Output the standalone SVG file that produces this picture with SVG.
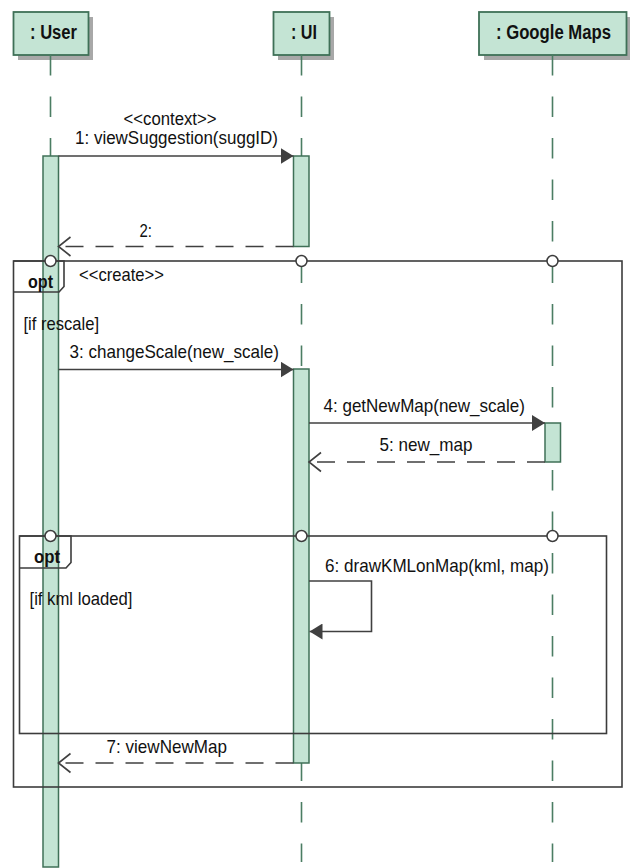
<svg xmlns="http://www.w3.org/2000/svg" width="630" height="868" viewBox="0 0 630 868">
<style>
.head{fill:#c4e4d4;stroke:#3f7057;stroke-width:1.8}
.shadow{fill:#a8a8a8}
.life{stroke:#4b7d63;stroke-width:1.6;stroke-dasharray:20.5 21;fill:none}
.bar{fill:#c4e4d4;stroke:#3f7057;stroke-width:1.5}
.frame{fill:none;stroke:#3c3c3c;stroke-width:1.6}
.gate{fill:#fff;stroke:#3c3c3c;stroke-width:1.5}
.msg{fill:none;stroke:#404040;stroke-width:1.6}
.ret{fill:none;stroke:#404040;stroke-width:1.6;stroke-dasharray:18 12}
text{font-family:"Liberation Sans",Arial,sans-serif;fill:#111}
.ht{font-size:20px;font-weight:bold}
.t{font-size:19px}
.ts{font-size:17.5px}
.op{font-size:19px;font-weight:bold}
</style>
<defs>
<marker id="filled" markerUnits="userSpaceOnUse" viewBox="0 0 13 16" refX="13" refY="8" markerWidth="13" markerHeight="16" orient="auto">
<path d="M0,0 L13,8 L0,16 z" fill="#404040"/>
</marker>
<marker id="open" markerUnits="userSpaceOnUse" viewBox="-2 -2 16 23" refX="12" refY="9.5" markerWidth="16" markerHeight="23" orient="auto" overflow="visible">
<path d="M0,0 L12,9.5 L0,19" fill="none" stroke="#404040" stroke-width="1.6" stroke-dasharray="none"/>
</marker>
</defs>

<g id="user">
<rect class="shadow" x="18" y="17" width="75" height="43"/>
<rect class="head" x="13.5" y="12" width="75" height="43"/>
<text class="ht" x="30" y="38.5" textLength="47" lengthAdjust="spacingAndGlyphs">: User</text>
<line class="life" x1="50.5" y1="55" x2="50.5" y2="862"/>
<rect class="bar" x="43" y="156" width="15.5" height="711"/>
</g>

<g id="ui">
<rect class="shadow" x="278" y="17" width="56" height="43"/>
<rect class="head" x="273.5" y="12" width="56" height="43"/>
<text class="ht" x="291" y="38.5" textLength="26" lengthAdjust="spacingAndGlyphs">: UI</text>
<line class="life" x1="301.5" y1="55" x2="301.5" y2="862"/>
<rect class="bar" x="293.5" y="156" width="15.5" height="90.5"/>
<rect class="bar" x="293.5" y="369" width="15.5" height="394"/>
</g>

<g id="googlemaps">
<rect class="shadow" x="484" y="17" width="146" height="43"/>
<rect class="head" x="479" y="12" width="147.5" height="43"/>
<text class="ht" x="496" y="38.5" textLength="115" lengthAdjust="spacingAndGlyphs">: Google Maps</text>
<line class="life" x1="552.5" y1="55" x2="552.5" y2="862"/>
<rect class="bar" x="545" y="423" width="15.5" height="39"/>
</g>

<g id="opt-rescale">
<rect class="frame" x="13.5" y="261" width="608.5" height="526"/>
<path class="frame" d="M13.5,261 L64,261 L64,286.5 L59,292 L13.5,292"/>
<text class="op" x="28" y="287.5" textLength="25" lengthAdjust="spacingAndGlyphs">opt</text>
<text class="t" x="79" y="280.5" textLength="85" lengthAdjust="spacingAndGlyphs">&lt;&lt;create&gt;&gt;</text>
<text class="t" x="23.5" y="330" textLength="75.5" lengthAdjust="spacingAndGlyphs">[if rescale]</text>
<circle class="gate" cx="50.5" cy="261" r="5.5"/>
<circle class="gate" cx="301.5" cy="261" r="5.5"/>
<circle class="gate" cx="552.5" cy="261" r="5.5"/>
</g>

<g id="opt-kml">
<rect class="frame" x="19.5" y="536" width="587" height="197.5"/>
<path class="frame" d="M19.5,536 L71,536 L71,562.5 L66,568 L19.5,568"/>
<text class="op" x="34" y="563" textLength="26" lengthAdjust="spacingAndGlyphs">opt</text>
<text class="t" x="29.5" y="605" textLength="103" lengthAdjust="spacingAndGlyphs">[if kml loaded]</text>
<circle class="gate" cx="50.5" cy="536" r="5.5"/>
<circle class="gate" cx="301.5" cy="536" r="5.5"/>
<circle class="gate" cx="552.5" cy="536" r="5.5"/>
</g>

<g id="connectors">
<line class="msg" x1="58.5" y1="156" x2="293.5" y2="156" marker-end="url(#filled)"/>
<text class="ts" x="123.5" y="124.5" textLength="93" lengthAdjust="spacingAndGlyphs">&lt;&lt;context&gt;&gt;</text>
<text class="ts" x="75" y="143.5" textLength="203" lengthAdjust="spacingAndGlyphs">1: viewSuggestion(suggID)</text>

<line class="ret" x1="293.5" y1="246.5" x2="58.5" y2="246.5" marker-end="url(#open)"/>
<text class="t" x="139.5" y="236.5" textLength="12.5" lengthAdjust="spacingAndGlyphs">2:</text>

<line class="msg" x1="58.5" y1="369.5" x2="293.5" y2="369.5" marker-end="url(#filled)"/>
<text class="t" x="69.5" y="358" textLength="209.5" lengthAdjust="spacingAndGlyphs">3: changeScale(new_scale)</text>

<line class="msg" x1="309" y1="423" x2="545" y2="423" marker-end="url(#filled)"/>
<text class="t" x="323.5" y="411.5" textLength="201.5" lengthAdjust="spacingAndGlyphs">4: getNewMap(new_scale)</text>

<line class="ret" x1="545" y1="462" x2="309" y2="462" marker-end="url(#open)"/>
<text class="t" x="379.5" y="450.5" textLength="93" lengthAdjust="spacingAndGlyphs">5: new_map</text>

<path class="msg" d="M309,581 L371.5,581 L371.5,631.5 L309.5,631.5" marker-end="url(#filled)"/>
<text class="t" x="325" y="571.5" textLength="224" lengthAdjust="spacingAndGlyphs">6: drawKMLonMap(kml, map)</text>

<line class="ret" x1="293.5" y1="763" x2="58.5" y2="763" marker-end="url(#open)"/>
<text class="t" x="106.5" y="753" textLength="120.5" lengthAdjust="spacingAndGlyphs">7: viewNewMap</text>
</g>
</svg>
